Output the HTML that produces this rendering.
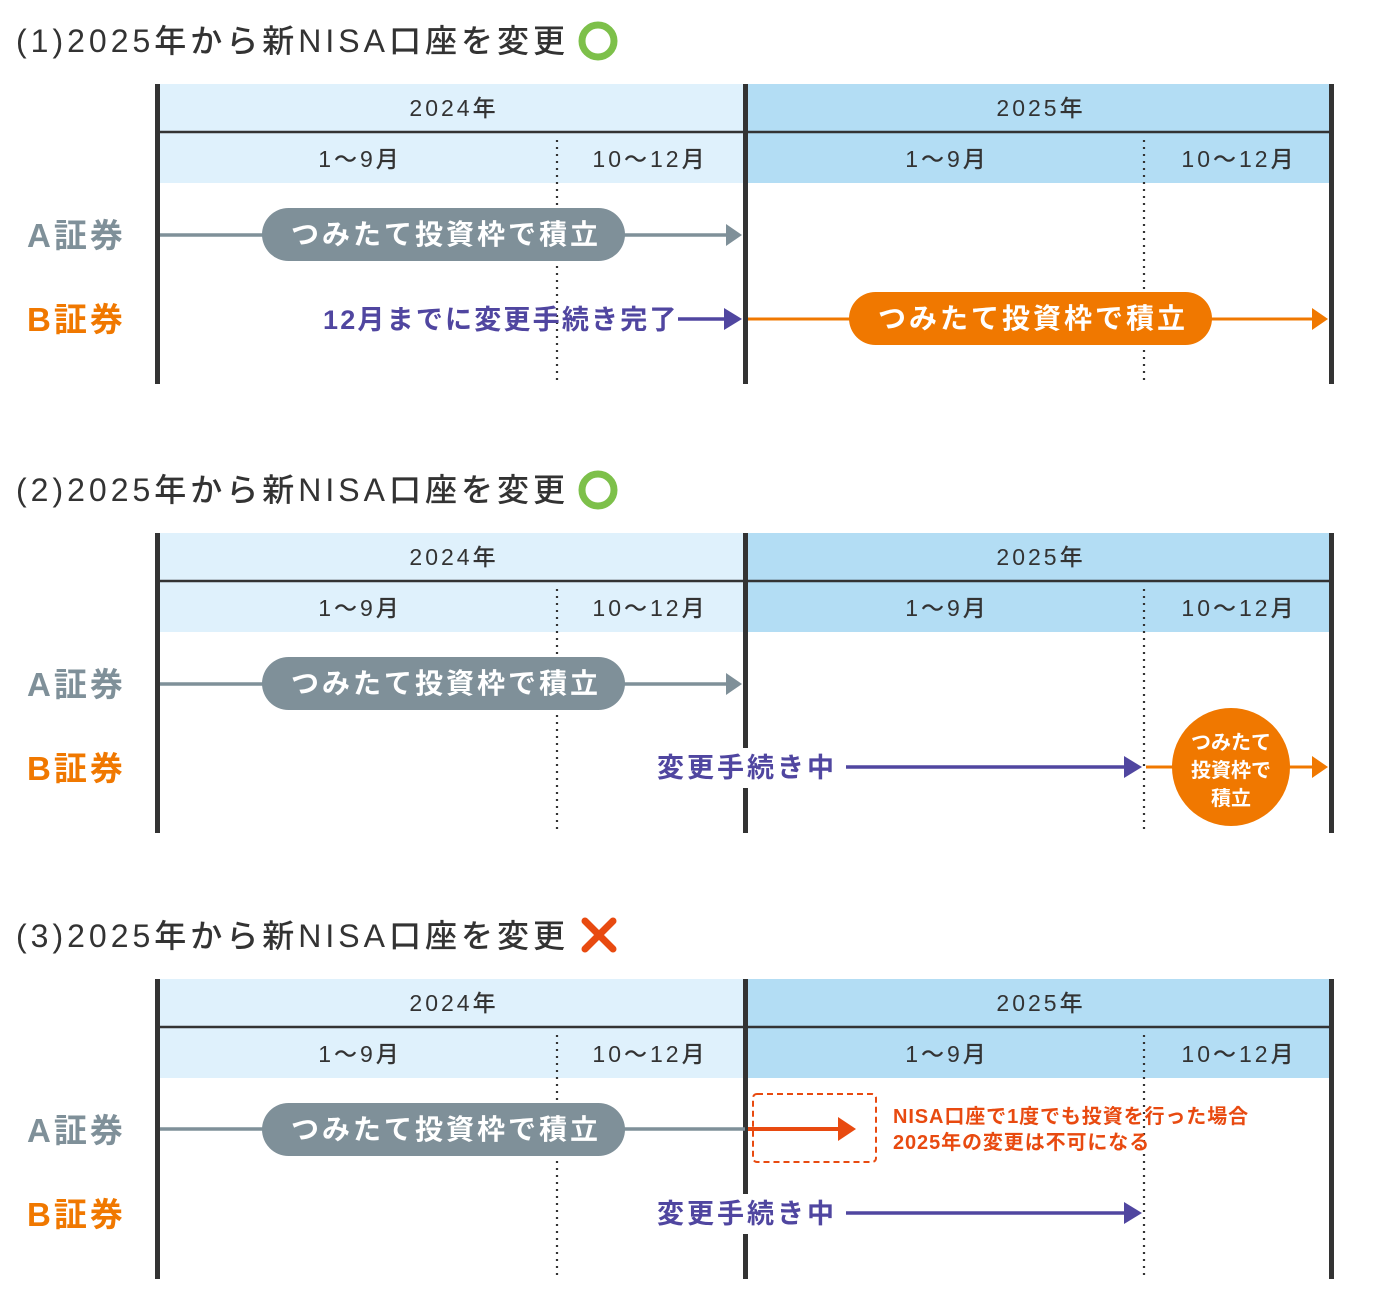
<!DOCTYPE html>
<html><head><meta charset="utf-8"><style>
html,body{margin:0;padding:0;background:#fff;}
svg{display:block;font-family:"Liberation Sans","Noto Sans CJK JP",sans-serif;}
.t{font-size:32px;fill:#333;font-weight:500;letter-spacing:4px}
.h{font-size:23px;fill:#333;font-weight:500;text-anchor:middle;letter-spacing:3px}
.lab{font-size:33px;font-weight:700;letter-spacing:3px}
.pill{font-size:28px;fill:#fff;font-weight:700;text-anchor:middle;letter-spacing:3px}
.pu{font-size:27px;fill:#5046a0;font-weight:700}
</style></head><body>
<svg width="1380" height="1300" viewBox="0 0 1380 1300" xmlns="http://www.w3.org/2000/svg">
<defs>
<g id="frame">
  <rect x="160" y="84" width="585" height="99" fill="#dff1fc"/>
  <rect x="745" y="84" width="587" height="99" fill="#b3ddf4"/>
  <line x1="160" y1="132" x2="1332" y2="132" stroke="#333" stroke-width="2.5"/>
  <text class="h" x="454" y="116">2024年</text>
  <text class="h" x="1041" y="116">2025年</text>
  <text class="h" x="360" y="167">1〜9月</text>
  <text class="h" x="650" y="167">10〜12月</text>
  <text class="h" x="947" y="167">1〜9月</text>
  <text class="h" x="1239" y="167">10〜12月</text>
  <line x1="557" y1="140" x2="557" y2="384" stroke="#333" stroke-width="2.2" stroke-dasharray="2 5"/>
  <line x1="1144" y1="140" x2="1144" y2="384" stroke="#333" stroke-width="2.2" stroke-dasharray="2 5"/>
  <rect x="155" y="84" width="5" height="300" fill="#333"/>
  <rect x="743" y="84" width="5" height="300" fill="#333"/>
  <rect x="1329" y="84" width="5" height="300" fill="#333"/>
  <text class="lab" x="27" y="247" fill="#7f9099">A証券</text>
  <text class="lab" x="27" y="331" fill="#f07800">B証券</text>
</g>
<g id="arow">
  <rect x="262" y="208" width="363" height="53" rx="26.5" fill="#7f9099"/>
  <text class="pill" x="446" y="244">つみたて投資枠で積立</text>
</g>
<g id="chg">
  <rect x="650" y="748" width="192" height="40" fill="#fff"/>
  <text class="pu" x="657" y="777" style="letter-spacing:3px">変更手続き中</text>
  <line x1="846" y1="767" x2="1126" y2="767" stroke="#5046a0" stroke-width="3.5"/>
  <polygon points="1124,756 1142,767 1124,778" fill="#5046a0"/>
</g>
</defs>

<text class="t" x="16" y="52">(1)2025年から新NISA口座を変更</text>
<circle cx="598" cy="41" r="16" fill="none" stroke="#7dc04a" stroke-width="7"/>
<use href="#frame"/>
<line x1="160" y1="235" x2="728" y2="235" stroke="#7f9099" stroke-width="3.5"/>
<polygon points="726,224 742,235 726,246" fill="#7f9099"/>
<use href="#arow"/>
<text class="pu" x="323" y="329" style="letter-spacing:2.2px">12月までに変更手続き完了</text>
<line x1="678" y1="319" x2="726" y2="319" stroke="#5046a0" stroke-width="3.5"/>
<polygon points="724,308 742,319 724,330" fill="#5046a0"/>
<line x1="748" y1="319" x2="1314" y2="319" stroke="#f07800" stroke-width="3"/>
<polygon points="1312,308 1328,319 1312,330" fill="#f07800"/>
<rect x="849" y="292" width="363" height="53" rx="26.5" fill="#f07800"/>
<text class="pill" x="1033" y="328">つみたて投資枠で積立</text>

<g transform="translate(0,449)">
<text class="t" x="16" y="52">(2)2025年から新NISA口座を変更</text>
<circle cx="598" cy="41" r="16" fill="none" stroke="#7dc04a" stroke-width="7"/>
<use href="#frame"/>
<line x1="160" y1="235" x2="728" y2="235" stroke="#7f9099" stroke-width="3.5"/>
<polygon points="726,224 742,235 726,246" fill="#7f9099"/>
<use href="#arow"/>
</g>
<use href="#chg"/>
<line x1="1146" y1="767" x2="1314" y2="767" stroke="#f07800" stroke-width="3"/>
<polygon points="1312,756 1328,767 1312,778" fill="#f07800"/>
<circle cx="1231" cy="767" r="59" fill="#f07800"/>
<text x="1231" y="749" font-size="20" font-weight="700" fill="#fff" text-anchor="middle">つみたて</text>
<text x="1231" y="777" font-size="20" font-weight="700" fill="#fff" text-anchor="middle">投資枠で</text>
<text x="1231" y="805" font-size="20" font-weight="700" fill="#fff" text-anchor="middle">積立</text>

<g transform="translate(0,895)">
<text class="t" x="16" y="52">(3)2025年から新NISA口座を変更</text>
<path d="M585 26 L613 54 M613 26 L585 54" stroke="#e84a10" stroke-width="7" stroke-linecap="round"/>
<use href="#frame"/>
<line x1="160" y1="234" x2="745" y2="234" stroke="#7f9099" stroke-width="3.5"/>
<use href="#arow"/>
<rect x="753" y="199" width="123" height="68" rx="4" fill="none" stroke="#e84a10" stroke-width="2" stroke-dasharray="6 4"/>
<line x1="748" y1="234" x2="840" y2="234" stroke="#e84a10" stroke-width="4"/>
<polygon points="838,222 856,234 838,246" fill="#e84a10"/>
<text x="893" y="228" font-size="20" font-weight="700" fill="#e84a10" style="letter-spacing:0.9px">NISA口座で1度でも投資を行った場合</text>
<text x="893" y="254" font-size="20" font-weight="700" fill="#e84a10" style="letter-spacing:0.9px">2025年の変更は不可になる</text>
</g>
<g transform="translate(0,446)"><use href="#chg"/></g>
</svg>
</body></html>
